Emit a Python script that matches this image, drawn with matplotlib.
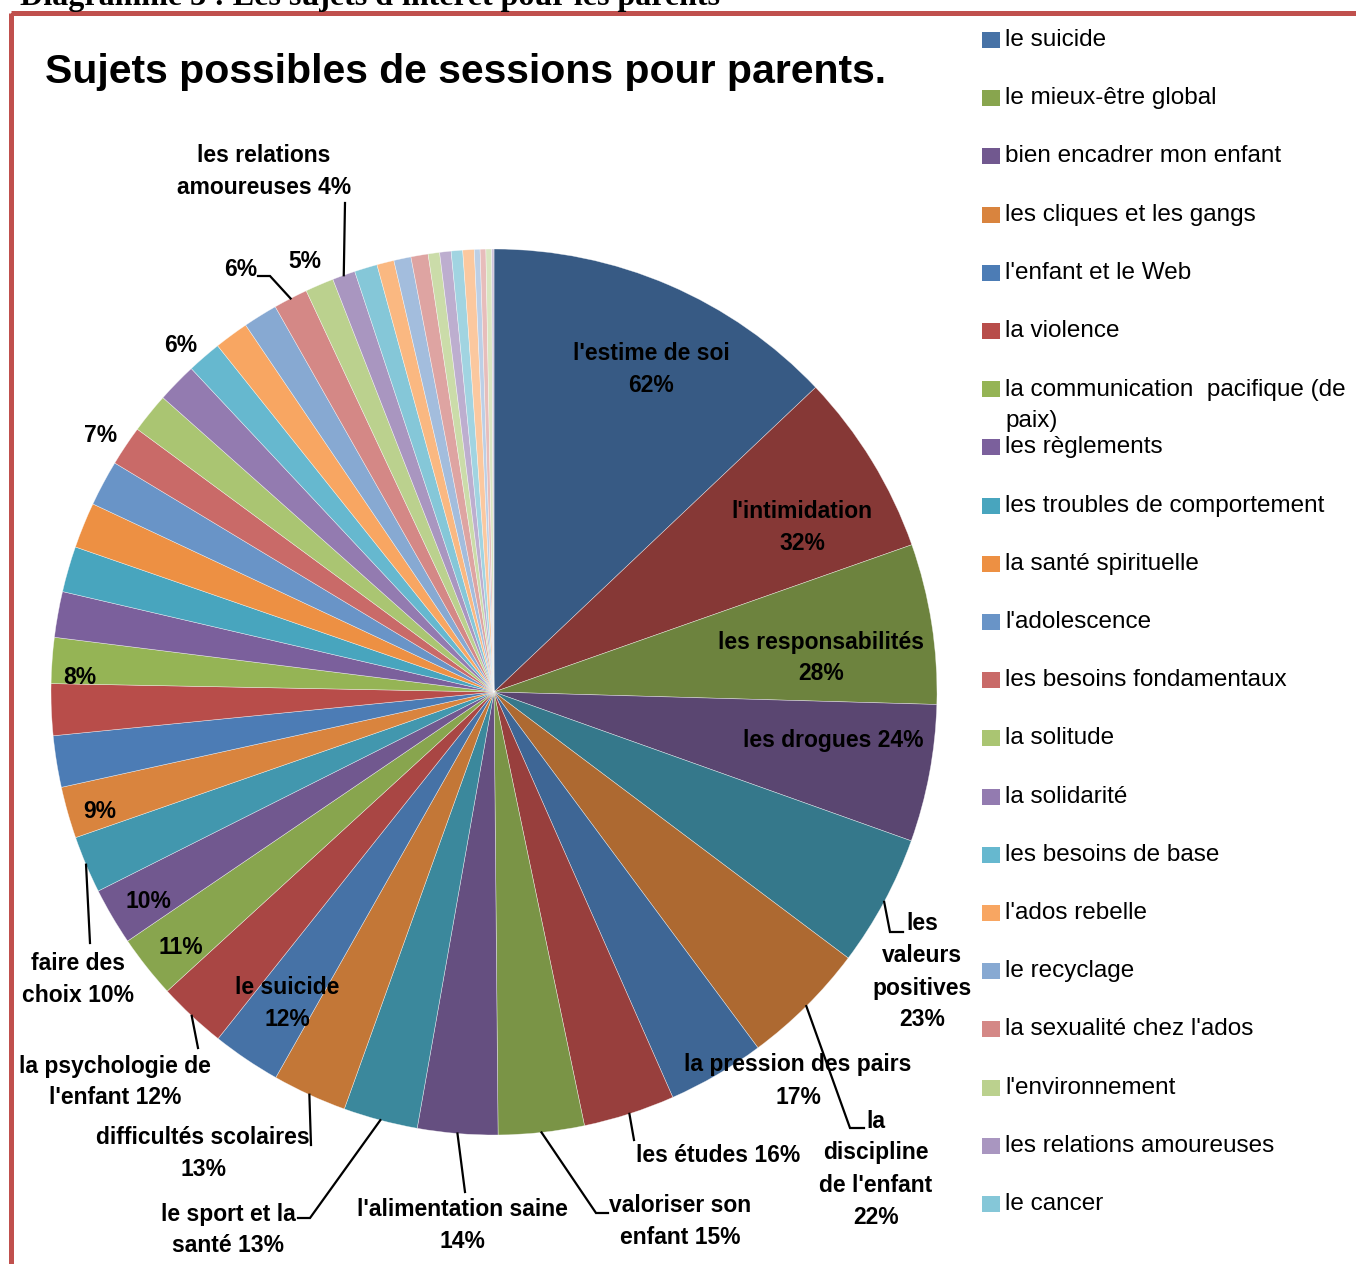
import matplotlib
matplotlib.use("Agg")
import matplotlib.pyplot as plt
from matplotlib.patches import Rectangle
from matplotlib import font_manager as fm
import numpy as np

W, H, DPI = 1356, 1264, 100

# ---------------- data ----------------
slice_names = [
    "l'estime de soi", "l'intimidation", "les responsabilités", "les drogues",
    "les valeurs positives", "la discipline de l'enfant", "la pression des pairs",
    "les études", "valoriser son enfant", "l'alimentation saine",
    "le sport et la santé", "difficultés scolaires", "le suicide",
    "la psychologie de l'enfant", "le mieux-être global", "bien encadrer mon enfant",
    "faire des choix", "les cliques et les gangs", "l'enfant et le Web", "la violence",
    "la communication  pacifique (de paix)", "les règlements",
    "les troubles de comportement", "la santé spirituelle", "l'adolescence",
    "les besoins fondamentaux", "la solitude", "la solidarité", "les besoins de base",
    "l'ados rebelle", "le recyclage", "la sexualité chez l'ados", "l'environnement",
    "les relations amoureuses", "le cancer",
    "", "", "", "", "", "", "", "", "", "", "",
]
slice_values = [62, 32, 28, 24, 23, 22, 17, 16, 15, 14, 13, 13, 12, 12, 11, 10, 10, 9,
                9, 9, 8, 8, 8, 8, 8, 7, 7, 7, 6, 6, 6, 6, 5, 4, 4,
                3, 3, 3, 2, 2, 2, 2, 1, 1, 1, 0.4]

legend_names = [
    "le suicide", "le mieux-être global", "bien encadrer mon enfant",
    "les cliques et les gangs", "l'enfant et le Web", "la violence",
    "la communication  pacifique (de\npaix)", "les règlements",
    "les troubles de comportement", "la santé spirituelle", "l'adolescence",
    "les besoins fondamentaux", "la solitude", "la solidarité", "les besoins de base",
    "l'ados rebelle", "le recyclage", "la sexualité chez l'ados", "l'environnement",
    "les relations amoureuses", "le cancer",
]

# data labels: slice index, text
label_slices = [0, 1, 2, 3, 4, 5, 6, 7, 8, 9, 10, 11, 12, 13, 14, 15, 16, 17, 20, 25, 28, 31, 32, 33]
label_texts = [
    "l'estime de soi\n62%", "l'intimidation\n32%", "les responsabilités\n28%",
    "les drogues 24%", "les\nvaleurs\npositives\n23%", "la\ndiscipline\nde l'enfant\n22%",
    "la pression des pairs\n17%", "les études 16%", "valoriser son\nenfant 15%",
    "l'alimentation saine\n14%", "le sport et la\nsanté 13%", "difficultés scolaires\n13%",
    "le suicide\n12%", "la psychologie de\nl'enfant 12%", "11%", "10%",
    "faire des\nchoix 10%", "9%", "8%", "7%", "6%", "6%", "5%",
    "les relations\namoureuses 4%",
]

title = "Sujets possibles de sessions pour parents."
caption = "Diagramme 3 : Les sujets d'intérêt pour les parents"

# ---------------- style / layout ----------------
label_pos = [
    (651, 369), (802, 528), (821, 658), (833, 741), (922, 972), (876, 1169),
    (798, 1081), (718, 1156), (680, 1222), (462, 1226), (228, 1230), (203, 1153),
    (287, 1003), (115, 1082), (181, 947), (148, 901), (78, 980), (100, 812),
    (80, 677), (101, 435), (181, 345), (241, 270), (305, 262), (264, 171),
]
leader_pts = [
    None, None, None, None, [(890, 932), (903, 932)], [(850, 1128), (864, 1128)],
    None, [(634, 1140)], [(596, 1213), (608, 1213)], [(465, 1192)],
    [(310, 1218), (298, 1218)], [(311, 1145)], None, [(198, 1048)], None, None,
    [(90, 943)], None, None, None, None, [(270, 276), (258, 276)], None, [(345, 203)],
]

base_cols = ["#4F81BD", "#C0504D", "#9BBB59", "#8064A2", "#4BACC6", "#F79646"]
levels = [-0.30, -0.21, -0.12, -0.04, 0.15, 0.32, 0.48, 0.62]


def slice_color(i):
    h = base_cols[i % 6].lstrip("#")
    rgb = np.array([int(h[k:k + 2], 16) for k in (0, 2, 4)], dtype=float)
    lv = levels[min(i // 6, len(levels) - 1)]
    if lv < 0:
        rgb = rgb * (1 + lv)
    else:
        rgb = rgb + (255 - rgb) * lv
    return tuple(np.clip(rgb / 255.0, 0, 1))


colors = [slice_color(i) for i in range(len(slice_values))]

# condensed bold font if available, otherwise a smaller Liberation Sans
narrow_ok = False
try:
    p = fm.findfont(fm.FontProperties(family="Liberation Sans Narrow", weight="bold"),
                    fallback_to_default=False)
    narrow_ok = "Narrow" in p
except Exception:
    narrow_ok = False
if narrow_ok:
    bold_font = ["Liberation Sans Narrow", "Liberation Sans", "DejaVu Sans"]
    lab_fs, title_fs, lab_ls = 18.5, 35, 1.35
else:
    bold_font = ["Liberation Sans", "DejaVu Sans"]
    lab_fs, title_fs, lab_ls = 16.5, 29.5, 1.5
reg_font = ["Liberation Sans", "DejaVu Sans"]

fig = plt.figure(figsize=(W / DPI, H / DPI), dpi=DPI)
fig.patch.set_facecolor("white")

# pie axes: center (494, 692) px, radius 443 px
cx, cy, R = 494, 692, 443
ax = fig.add_axes([(cx - R) / W, (H - cy - R) / H, 2 * R / W, 2 * R / H])
wedges, _ = ax.pie(slice_values, colors=colors, startangle=90, counterclock=False,
                   radius=1.0, wedgeprops=dict(linewidth=0.4, edgecolor=(1, 1, 1, 0.6)))
ax.set_xlim(-1, 1)
ax.set_ylim(-1, 1)
ax.set_aspect("equal")
ax.axis("off")

# overlay axes in pixel coordinates
ov = fig.add_axes([0, 0, 1, 1], zorder=5)
ov.set_xlim(0, W)
ov.set_ylim(H, 0)
ov.axis("off")
ov.patch.set_alpha(0)

fig.canvas.draw()


def wedge_edge_px(i):
    w = wedges[i]
    mid = np.deg2rad((w.theta1 + w.theta2) / 2.0)
    x, y = ax.transData.transform((np.cos(mid), np.sin(mid)))
    return x, H - y


for si, txt, pos, lp in zip(label_slices, label_texts, label_pos, leader_pts):
    ov.text(pos[0], pos[1], txt, ha="center", va="center", fontsize=lab_fs,
            fontweight="bold", family=bold_font, color="black", linespacing=lab_ls,
            clip_on=False)
    if lp is not None:
        ex, ey = wedge_edge_px(si)
        xs = [ex] + [p[0] for p in lp]
        ys = [ey] + [p[1] for p in lp]
        ov.plot(xs, ys, color="black", lw=1.6, solid_joinstyle="miter", clip_on=False)

# title and clipped caption
ov.text(45, 72, title, ha="left", va="center", fontsize=title_fs, fontweight="bold",
        family=bold_font, color="black")
ov.text(20, 5, caption, ha="left", va="baseline", fontsize=23, fontweight="bold",
        family=["Liberation Serif", "DejaVu Serif"], color="black", clip_on=True)

# legend
leg_y0, leg_dy = 40, 58.2
for k, name in enumerate(legend_names):
    yc = leg_y0 + k * leg_dy
    col = colors[slice_names.index(name.replace("\n", " "))]
    ov.add_patch(Rectangle((982, yc - 8), 18, 16, facecolor=col, edgecolor="none"))
    nlines = name.count("\n") + 1
    ov.text(1005, yc + (nlines - 1) * 16, name, ha="left", va="center", fontsize=17.5,
            family=reg_font, color="black", linespacing=1.55)

# chart-area border
ov.add_patch(Rectangle((11, 13), W + 40, H + 40, facecolor="none",
                       edgecolor="#C0504D", lw=3.6, clip_on=False))

fig.savefig("out.png", dpi=DPI, facecolor="white")
